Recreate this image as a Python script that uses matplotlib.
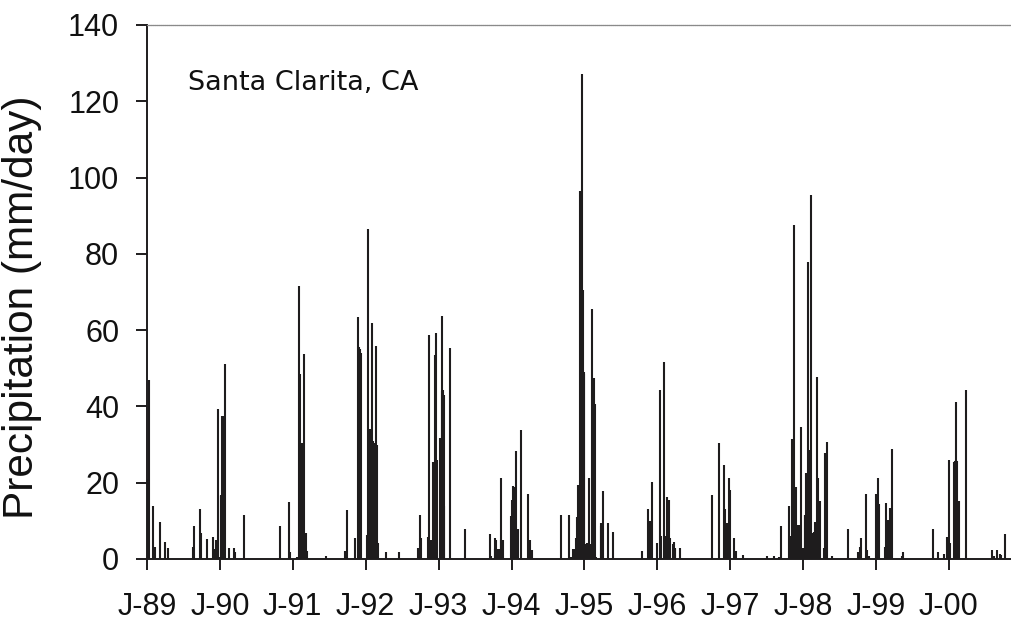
import matplotlib
matplotlib.use("Agg")
import matplotlib.pyplot as plt
import numpy as np
import pandas as pd

# Daily precipitation events (month-day, mm/day), one list per calendar year
rain_1989 = [("01-02", 21), ("01-04", 20), ("01-06", 21), ("01-08", 20.5), ("01-12", 47),
             ("02-01", 14), ("02-08", 3.2), ("03-06", 9.6), ("04-01", 4.5), ("04-18", 2.8),
             ("08-19", 3.2), ("08-22", 8.7), ("09-23", 13), ("10-01", 6.8), ("10-29", 5.2),
             ("11-27", 5.7), ("12-04", 2.5), ("12-14", 5), ("12-22", 39.3), ("12-27", 0.5)]
rain_1990 = [("01-06", 16.7), ("01-09", 16.5), ("01-13", 37.5), ("01-17", 37.5), ("01-26", 51),
             ("02-16", 2.8), ("03-12", 2.8), ("03-20", 1.9), ("05-04", 11.5), ("10-30", 8.7),
             ("12-12", 15), ("12-17", 1.8)]
rain_1991 = [("01-23", 0.5), ("01-31", 71.7), ("02-05", 48.5), ("02-09", 30.3), ("02-13", 30),
             ("02-17", 30.3), ("02-26", 53.7), ("03-06", 6.8), ("03-14", 2.2), ("06-15", 0.9),
             ("09-21", 2.2), ("09-29", 12.8), ("11-11", 5.4), ("11-23", 63.4), ("11-30", 55.5),
             ("12-03", 55), ("12-07", 54)]
rain_1992 = [("01-09", 6.3), ("01-14", 86.5), ("01-18", 33.8), ("01-21", 34), ("01-24", 33.5),
             ("01-27", 33.8), ("02-02", 62), ("02-07", 31), ("02-12", 30.3), ("02-21", 55.8),
             ("02-26", 30), ("03-05", 4.1), ("04-11", 1.8), ("06-17", 1.8), ("09-20", 2.8),
             ("09-30", 11.5), ("10-06", 5.4), ("11-11", 5.7), ("11-16", 58.6), ("11-22", 4.8),
             ("11-26", 5), ("12-04", 25.3), ("12-07", 25), ("12-12", 53.6), ("12-19", 59.2),
             ("12-23", 26)]
rain_1993 = [("01-07", 31.7), ("01-12", 31.7), ("01-16", 63.7), ("01-19", 44), ("01-22", 44.2),
             ("01-26", 43), ("01-30", 13.9), ("02-27", 55.3), ("05-13", 7.8), ("09-16", 6.5),
             ("09-21", 0.8), ("10-09", 5.4), ("10-12", 2.7), ("10-16", 5), ("10-20", 2.7),
             ("10-25", 2.7), ("10-30", 2.7), ("11-03", 2.7), ("11-07", 5), ("11-11", 21.2),
             ("11-19", 5), ("12-29", 11.4)]
rain_1994 = [("01-04", 15.5), ("01-10", 19.1), ("01-13", 19), ("01-24", 28.3), ("02-02", 7.8),
             ("02-19", 33.8), ("03-27", 17), ("04-05", 5), ("04-15", 2.4), ("09-08", 11.5),
             ("10-14", 11.5), ("10-28", 0.6), ("11-05", 2.5), ("11-11", 2.7), ("11-18", 5.5),
             ("11-25", 11), ("12-02", 19.4), ("12-06", 19.4), ("12-10", 96.4), ("12-19", 127.2),
             ("12-25", 70.5), ("12-28", 49)]
rain_1995 = [("01-01", 48.5), ("01-05", 4), ("01-14", 4.1), ("01-18", 4), ("01-21", 3.7),
             ("01-25", 21.3), ("01-29", 4), ("02-02", 3.5), ("02-06", 4), ("02-10", 65.5),
             ("02-16", 47.5), ("02-25", 40.6), ("03-02", 0.5), ("03-24", 8.6), ("03-27", 9.4),
             ("04-02", 17.9), ("04-28", 9.5), ("05-24", 7.2), ("10-16", 2), ("11-16", 13),
             ("11-24", 10), ("11-28", 10), ("12-06", 20.2), ("12-30", 4.3)]
rain_1996 = [("01-15", 44.2), ("01-21", 5.9), ("02-02", 51.7), ("02-09", 5.9), ("02-19", 16.3),
             ("02-27", 15.5), ("03-07", 5.4), ("03-20", 4), ("03-25", 4.5), ("03-28", 2.6),
             ("04-01", 2.8), ("04-26", 2.8), ("09-30", 16.8), ("11-03", 30.5), ("11-28", 24.6),
             ("12-03", 13), ("12-10", 9.4), ("12-14", 9.4), ("12-24", 21.3)]
rain_1997 = [("01-01", 18), ("01-19", 5.6), ("01-27", 2.1), ("03-04", 1), ("07-05", 0.7),
             ("08-08", 0.7), ("09-03", 0.5), ("09-11", 8.7), ("10-24", 13.9), ("10-28", 6),
             ("11-01", 6), ("11-05", 31.5), ("11-10", 31.5), ("11-16", 87.5), ("11-20", 19),
             ("11-24", 19), ("11-29", 8.9), ("12-03", 9), ("12-07", 8.5), ("12-11", 9),
             ("12-22", 34.7), ("12-29", 2.8)]
rain_1998 = [("01-09", 11.5), ("01-12", 11.5), ("01-15", 22.6), ("01-19", 22.5), ("01-26", 77.8),
             ("02-01", 28.6), ("02-05", 28.6), ("02-09", 95.3), ("02-14", 6.9), ("02-18", 6.9),
             ("02-22", 7), ("02-27", 9.8), ("03-09", 47.6), ("03-16", 21.3), ("03-20", 15),
             ("03-24", 15.3), ("04-14", 2.8), ("04-21", 27.9), ("04-29", 30.6), ("05-24", 0.8),
             ("08-13", 7.9), ("10-03", 1.9), ("10-11", 3.2), ("10-19", 5.6), ("11-12", 17),
             ("11-19", 2.4), ("11-27", 0.9)]
rain_1999 = [("01-01", 17), ("01-04", 17), ("01-09", 21.3), ("01-17", 14.3), ("02-15", 3.1),
             ("02-19", 3.1), ("02-22", 14.8), ("03-01", 10.2), ("03-04", 10.2), ("03-08", 10),
             ("03-13", 13.4), ("03-21", 28.8), ("05-09", 0.9), ("05-17", 1.9), ("10-15", 7.9),
             ("11-05", 1.9), ("12-05", 1.3), ("12-23", 5.7), ("12-30", 26)]
rain_2000 = [("01-08", 4.1), ("01-25", 25.5), ("01-29", 25.8), ("02-03", 41.2), ("02-06", 26),
             ("02-09", 25.8), ("02-19", 15.3), ("03-25", 44.4), ("08-05", 2.4), ("08-12", 0.8),
             ("08-31", 2.4), ("09-11", 1.3), ("09-19", 1), ("10-06", 6.5)]

year_labels = ["J-89", "J-90", "J-91", "J-92", "J-93", "J-94",
               "J-95", "J-96", "J-97", "J-98", "J-99", "J-00"]
y_ticks = [0, 20, 40, 60, 80, 100, 120, 140]
site_name = "Santa Clarita, CA"
y_title = "Precipitation (mm/day)"

yearly = {1989: rain_1989, 1990: rain_1990, 1991: rain_1991, 1992: rain_1992,
          1993: rain_1993, 1994: rain_1994, 1995: rain_1995, 1996: rain_1996,
          1997: rain_1997, 1998: rain_1998, 1999: rain_1999, 2000: rain_2000}
dates, amounts = [], []
for yr, events in yearly.items():
    for md, mm in events:
        dates.append(pd.Timestamp(f"{yr}-{md}"))
        amounts.append(mm)
dates = pd.to_datetime(dates)
amounts = np.array(amounts, dtype=float)

tick_font = ["Liberation Sans", "DejaVu Sans"]
ink = "#1e1c1d"

fig = plt.figure(figsize=(10.12, 6.23), dpi=100)
ax = fig.add_axes([147 / 1012, 1 - 559 / 623, 1 - 147 / 1012, (559 - 25) / 623])

ax.vlines(dates, 0, amounts, color=ink, linewidth=1.5)

ax.set_xlim(pd.Timestamp("1989-01-01"), pd.Timestamp("2000-11-12"))
ax.set_ylim(0, 140)

tick_dates = [pd.Timestamp(f"{1989 + i}-01-01") for i in range(len(year_labels))]
ax.set_xticks(tick_dates)
ax.set_xticklabels(year_labels)
ax.set_yticks(y_ticks)
ax.set_yticklabels([str(v) for v in y_ticks])

for lbl in ax.get_xticklabels() + ax.get_yticklabels():
    lbl.set_fontfamily(tick_font)
    lbl.set_fontsize(22)
    lbl.set_color("#111111")

ax.tick_params(axis="x", direction="out", length=8, width=1.4, pad=16, color=ink)
ax.tick_params(axis="y", direction="out", length=8, width=1.4, pad=12, color=ink)

for side in ("left", "bottom"):
    ax.spines[side].set_linewidth(1.4)
    ax.spines[side].set_color(ink)
ax.spines["right"].set_visible(False)
ax.spines["top"].set_color("#8a8a8a")
ax.spines["top"].set_linewidth(0.9)
ax.spines["top"].set_linestyle((0, (1, 0.6)))

ax.set_ylabel(y_title, fontfamily=tick_font, fontsize=30.5, color="#111111")
ax.yaxis.set_label_coords(-0.1214, 0.471)

fig.text(188 / 1012, 1 - 90 / 623, site_name, fontfamily=["DejaVu Sans"], fontsize=19.5,
         color="#111111", ha="left", va="baseline")

fig.savefig("out.png", dpi=100)
